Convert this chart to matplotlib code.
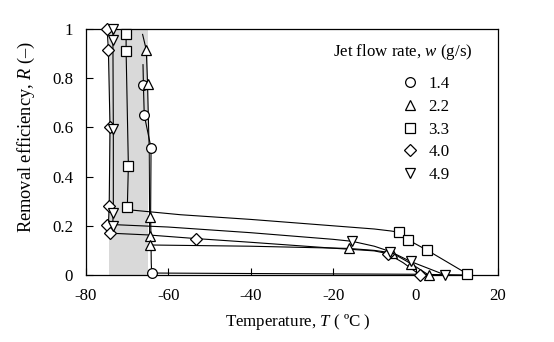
import matplotlib
matplotlib.use('Agg')
import matplotlib.pyplot as plt
from matplotlib.lines import Line2D

plt.rcParams['font.family'] = ['Liberation Serif', 'DejaVu Serif']
plt.rcParams['font.size'] = 12.2
plt.rcParams['axes.unicode_minus'] = False
plt.rcParams['mathtext.fontset'] = 'custom'
plt.rcParams['mathtext.rm'] = 'Liberation Serif'
plt.rcParams['mathtext.it'] = 'Liberation Serif:italic'

# measured points, w = 1.4 / 2.2 / 3.3 / 4.0 / 4.9 g/s
t_14 = [-66.0, -65.8, -64.15, -64.0]
r_14 = [0.772, 0.65, 0.517, 0.008]
t_22 = [-65.3, -65.0, -64.5, -64.5, -64.5, -16.2, -5.7, -1.0, 3.2]
r_22 = [0.915, 0.778, 0.236, 0.157, 0.122, 0.108, 0.09, 0.045, 0.0]
t_33 = [-70.2, -70.2, -69.65, -69.9, -4.1, -1.95, 2.9, 12.5]
r_33 = [0.98, 0.91, 0.444, 0.278, 0.174, 0.144, 0.1, 0.005]
t_40 = [-74.8, -74.5, -74.1, -74.3, -74.75, -74.1, -53.2, -6.8, 1.1]
r_40 = [1.0, 0.915, 0.603, 0.282, 0.203, 0.17, 0.148, 0.087, 0.0]
t_49 = [-73.4, -73.4, -73.3, -73.3, -73.45, -15.4, -6.1, -1.2, 7.2]
r_49 = [1.0, 0.955, 0.592, 0.251, 0.2, 0.137, 0.092, 0.055, 0.0]

# guide curves
ct_14 = [-66.1, -66.0, -65.8, -64.15, -64.25, -64.1, -64.0, -40, 0, 12.5]
cr_14 = [0.855, 0.772, 0.65, 0.517, 0.25, 0.05, 0.008, 0.006, 0.003, 0.0]
ct_22 = [-66.2, -65.3, -65.0, -64.6, -64.5, -64.5, -64.5, -40, -16.2, -10, -5.7, -1.0, 3.2]
cr_22 = [0.978, 0.915, 0.778, 0.5, 0.236, 0.157, 0.122, 0.117, 0.108, 0.1, 0.09, 0.045, 0.0]
ct_33a = [-70.2, -70.2, -69.65, -69.9]
cr_33a = [0.985, 0.91, 0.444, 0.278]
ct_33b = [-69.5, -57, -40, -20, -10, -6, -4.1, -1.95, 2.9, 12.5]
cr_33b = [0.265, 0.245, 0.226, 0.2, 0.187, 0.179, 0.174, 0.144, 0.1, 0.005]
ct_40 = [-74.8, -74.5, -74.1, -74.3, -74.5, -74.1, -65, -53.2, -40, -20, -10, -6.8, -3, 1.1]
cr_40 = [1.0, 0.915, 0.603, 0.282, 0.2, 0.17, 0.163, 0.148, 0.133, 0.109, 0.098, 0.087, 0.05, 0.0]
ct_49 = [-73.4, -73.4, -73.3, -73.3, -73.45, -60, -40, -20, -15.4, -10, -6.1, -1.2, 7.2]
cr_49 = [1.0, 0.955, 0.592, 0.251, 0.205, 0.195, 0.172, 0.145, 0.137, 0.117, 0.095, 0.055, 0.0]

labels = ['1.4', '2.2', '3.3', '4.0', '4.9']
marks = ['o', '^', 's', 'D', 'v']
msizes = [7, 7, 6.5, 6, 7]

fig = plt.figure(figsize=(5.54, 3.42), dpi=100)
ax = fig.add_axes([85.7 / 554, 67 / 342, 412.3 / 554, 246 / 342])

ax.axvspan(-74.3, -64.8, color='#d9d9d9', lw=0, zorder=0)

for ct, cr in [(ct_14, cr_14), (ct_22, cr_22), (ct_33a, cr_33a), (ct_33b, cr_33b),
               (ct_40, cr_40), (ct_49, cr_49)]:
    ax.plot(ct, cr, color='black', lw=0.8, zorder=2)

series = [(t_14, r_14), (t_22, r_22), (t_33, r_33), (t_40, r_40), (t_49, r_49)]
for (t, r), m, s in zip(series, marks, msizes):
    ax.plot(t, r, ls='none', marker=m, ms=s, mfc='white', mec='black', mew=0.9,
            zorder=3, clip_on=False)

ax.set_xlim(-80, 20)
ax.set_ylim(0, 1)
ax.set_xticks([-80, -60, -40, -20, 0, 20])
ax.set_yticks([0, 0.2, 0.4, 0.6, 0.8, 1])
ax.set_yticklabels(['0', '0.2', '0.4', '0.6', '0.8', '1'])
ax.tick_params(direction='in', length=5, width=0.8)
ax.tick_params(axis='x', pad=9)
ax.tick_params(axis='y', pad=9)
for sp in ax.spines.values():
    sp.set_linewidth(0.9)

fig.text(297.5 / 554, 1 - 321.7 / 342, 'Temperature, $T$ ( ºC )', ha='center', va='center')
fig.text(26.5 / 554, 1 - 137 / 342, 'Removal efficiency, $R$ (\u2013)', ha='center', va='center',
         rotation=90, fontsize=13.2)

fig.text(332.6 / 554, 1 - 52.5 / 342, 'Jet flow rate, $w$ (g/s)', ha='left', va='center')
handles = [Line2D([], [], ls='none', marker=m, ms=s, mfc='white', mec='black', mew=0.9)
           for m, s in zip(marks, msizes)]
ax.legend(handles, labels, frameon=False, loc='upper left',
          bbox_to_anchor=(393 / 554, 1 - 67.5 / 342), bbox_transform=fig.transFigure,
          handlelength=1.0, handletextpad=0.6, labelspacing=0.4, borderpad=0)

fig.savefig('out.png', dpi=100)
